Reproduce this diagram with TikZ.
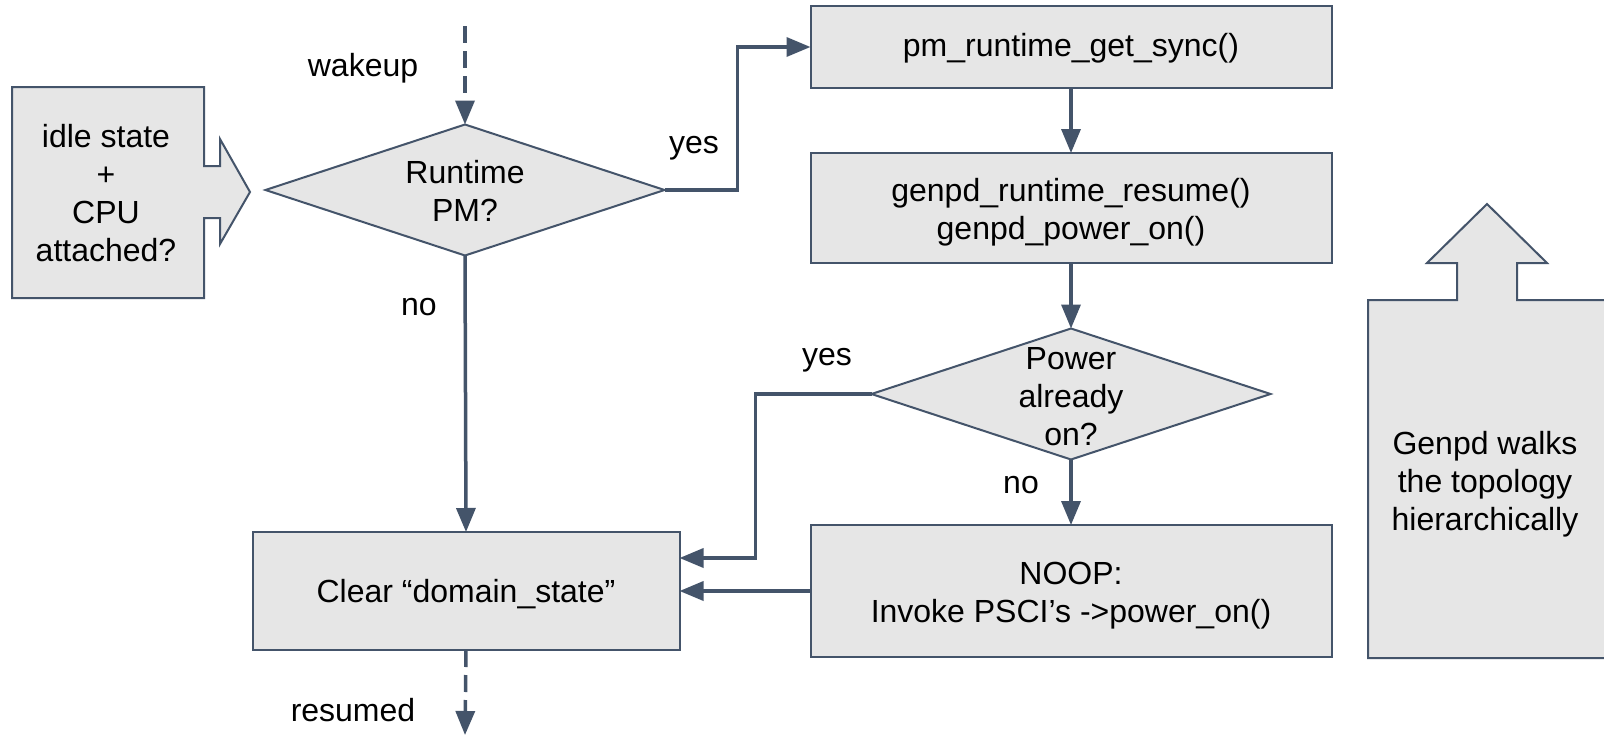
\documentclass[tikz,border=0pt]{standalone}
\usepackage{fontspec}
\setmainfont{Liberation Sans}
\usetikzlibrary{shapes.geometric,arrows.meta}

\definecolor{slate}{RGB}{68,84,106}
\definecolor{boxfill}{RGB}{230,230,230}

\tikzset{
  every node/.style={font=\fontsize{32}{38}\selectfont, text=black},
  procbox/.style={draw=slate, line width=2pt, fill=boxfill, rectangle,
    minimum width=521pt, inner sep=0pt, outer sep=0pt},
  decision/.style={draw=slate, line width=2pt, fill=boxfill, diamond,
    minimum width=399pt, minimum height=131pt, inner sep=0pt, outer sep=0pt},
  txt/.style={align=center, inner sep=0pt},
  flow/.style={draw=slate, line width=3.5pt, -{Triangle[length=24pt,width=19pt]}},
  dashflow/.style={flow, dash pattern=on 17pt off 8pt},
  shapeline/.style={draw=slate, line width=2pt, fill=boxfill, line join=miter},
}

\begin{document}
\begin{tikzpicture}[x=1pt, y=-1pt]
  \clip (0,0) rectangle (1604,736);
  \fill[white] (0,0) rectangle (1604,736);

  % left callout: box with a right-pointing arrow
  \path[shapeline] (12,87) -- (204,87) -- (204,166) -- (220,166) -- (220,139)
    -- (250,192) -- (220,244) -- (220,218) -- (204,218) -- (204,298)
    -- (12,298) -- cycle;
  \node[txt] (idle) at (106,193) {idle state\\+\\CPU\\attached?};

  % right callout: tall box with an up-pointing arrow
  \path[shapeline] (1620,658) -- (1368,658) -- (1368,300) -- (1457,300)
    -- (1457,263) -- (1427,263) -- (1487,204) -- (1547,263) -- (1517,263)
    -- (1517,300) -- (1620,300);
  \node[txt] (walk) at (1485,484) {Genpd walks\\the topology\\hierarchically};

  % decisions
  \node[decision] (rpm) at (465,190) {};
  \node[txt] at ([yshift=-1pt]rpm.center) {Runtime\\PM?};
  \node[decision] (pon) at (1071,394) {};
  \node[txt] at ([yshift=-3pt]pon.center) {Power\\already\\on?};

  % process boxes
  \node[procbox, minimum height=82pt] (sync) at (1071,47) {};
  \node[procbox, minimum height=110pt] (resume) at (1071,208) {};
  \node[procbox, minimum height=132pt] (noop) at (1071,591) {};
  \node[procbox, minimum width=427pt, minimum height=118pt] (clear) at (466,591) {};
  \node[txt] at ([yshift=-1pt]sync.center) {pm\_runtime\_get\_sync()};
  \node[txt] at ([yshift=-4pt]resume.center) {genpd\_runtime\_resume()\\genpd\_power\_on()};
  \node[txt] at ([yshift=-5pt]noop.center) {NOOP:\\Invoke PSCI’s -\kern0pt>power\_on()};
  \node[txt] at ([yshift=-3pt]clear.center) {Clear “domain\_state”};

  % free ends of the entry and exit arrows
  \coordinate (wake) at (465,26);
  \coordinate (out) at (465,735);

  % connectors
  \draw[dashflow] (wake) -- (rpm.north);
  \draw[flow] (rpm.east) -- ++(73,0) |- (sync.west);
  \draw[flow] (sync.south) -- (resume.north);
  \draw[flow] (resume.south) -- (pon.north);
  \draw[flow] (rpm.south) -- (clear.north);
  \draw[flow] (pon.west) -- ++(-116,0) |- ([yshift=33pt]clear.east);
  \draw[flow] (pon.south) -- (noop.north);
  \draw[flow] (noop.west) -- (clear.east);
  \draw[dashflow] (clear.south) -- (out);

  % labels
  \node[txt] (lwake) at (363,68) {wakeup};
  \node[txt] (lyes1) at (694,148) {yes};
  \node[txt] (lno1) at (419,307) {no};
  \node[txt] (lyes2) at (827,360) {yes};
  \node[txt] (lno2) at (1021,485) {no};
  \node[txt] (lres) at (353,710) {resumed};
\end{tikzpicture}
\end{document}
